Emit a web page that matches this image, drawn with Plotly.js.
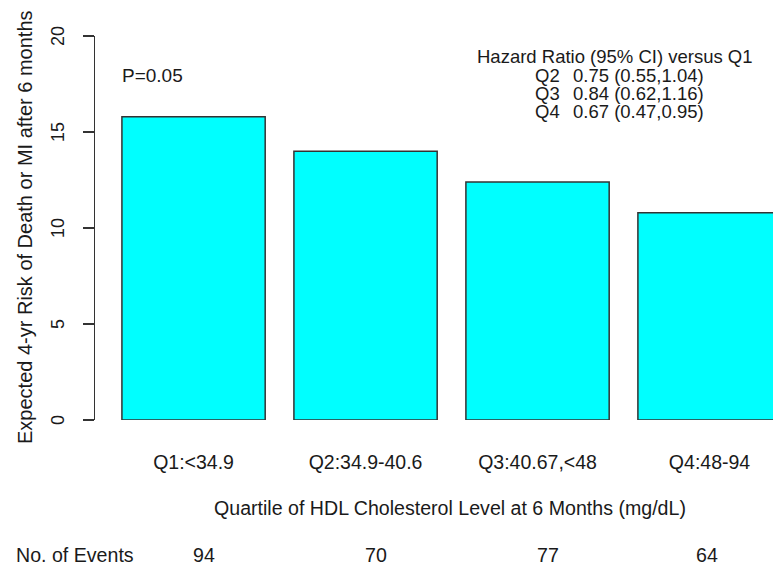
<!DOCTYPE html>
<html>
<head>
<meta charset="utf-8">
<script src="https://cdn.plot.ly/plotly-3.0.1.min.js"></script>
<style>html,body{margin:0;padding:0;background:#fff;}#chart{width:773px;height:570px;}</style>
</head>
<body>
<div id="chart"></div>
<script>
const categories = ["Q1:<34.9", "Q2:34.9-40.6", "Q3:40.67,<48", "Q4:48-94"];
const riskValues = [15.8, 14.0, 12.4, 10.8];
const eventCounts = [94, 70, 77, 64];
const hrLabels = ["Q2", "Q3", "Q4"];
const hrValues = ["0.75 (0.55,1.04)", "0.84 (0.62,1.16)", "0.67 (0.47,0.95)"];
const yTicks = [0, 5, 10, 15, 20];

const FONT = "Liberation Sans, Arial, Helvetica, sans-serif";
const TXT = "#1a1a1a";
const L = 95, T = 36, W = 678, H = 384;
const px = x => (x - L) / W;
const py = y => (T + H - y) / H;

const annotations = [];
annotations.push({xref:"paper", yref:"paper", x:px(120), y:py(75), xanchor:"left", yanchor:"middle",
  text:"P=0.05", showarrow:false, font:{family:FONT, size:19, color:TXT}});
annotations.push({xref:"paper", yref:"paper", x:px(615), y:py(56), xanchor:"center", yanchor:"middle",
  text:"Hazard Ratio (95% CI) versus Q1", showarrow:false, font:{family:FONT, size:18.5, color:TXT}});
const rowY = [75, 93.5, 112];
hrLabels.forEach((lab, i) => {
  annotations.push({xref:"paper", yref:"paper", x:px(547), y:py(rowY[i]), xanchor:"center", yanchor:"middle",
    text:lab, showarrow:false, font:{family:FONT, size:18.5, color:TXT}});
  annotations.push({xref:"paper", yref:"paper", x:px(571), y:py(rowY[i]), xanchor:"left", yanchor:"middle",
    text:hrValues[i], showarrow:false, font:{family:FONT, size:18.5, color:TXT}});
});
annotations.push({xref:"paper", yref:"paper", x:px(450), y:py(508), xanchor:"center", yanchor:"middle",
  text:"Quartile of HDL Cholesterol Level at 6 Months (mg/dL)", showarrow:false, font:{family:FONT, size:19.6, color:TXT}});
annotations.push({xref:"paper", yref:"paper", x:px(14), y:py(555), xanchor:"left", yanchor:"middle",
  text:"No. of Events", showarrow:false, font:{family:FONT, size:19.6, color:TXT}});
eventCounts.forEach((n, i) => {
  annotations.push({xref:"x", yref:"paper", x:categories[i], y:py(555), xanchor:"center", yanchor:"middle",
    xshift: i < 3 ? 10 : -3,
    text:String(n), showarrow:false, font:{family:FONT, size:19.6, color:TXT}});
});
annotations.push({xref:"paper", yref:"paper", x:px(25), y:py(227), xanchor:"center", yanchor:"middle",
  textangle:-90, text:"Expected 4-yr Risk of Death or MI after 6 months", showarrow:false,
  font:{family:FONT, size:20, color:TXT}});
yTicks.forEach(v => {
  annotations.push({xref:"paper", yref:"y", x:px(58), y:v, xanchor:"center", yanchor:"middle",
    textangle:-90, text:String(v), showarrow:false, font:{family:FONT, size:18, color:TXT}});
});

const data = [{
  type:"bar", x:categories, y:riskValues,
  marker:{color:"#00FFFF", line:{color:"#333333", width:1.5}},
  hoverinfo:"skip"
}];

const layout = {
  width:773, height:570,
  margin:{l:L, r:773-L-W, t:T, b:570-T-H, pad:0},
  paper_bgcolor:"#fff", plot_bgcolor:"#fff",
  showlegend:false,
  bargap:0.167,
  xaxis:{type:"category", range:[-0.573, 3.369], showline:false, showgrid:false, zeroline:false,
    ticks:"", ticklabelstandoff:28, tickfont:{family:FONT, size:19.5, color:TXT}, fixedrange:true},
  yaxis:{range:[0,20], tickvals:yTicks, showticklabels:false, showline:true, linecolor:"#333", linewidth:1.5,
    ticks:"outside", ticklen:11, tickwidth:1.5, tickcolor:"#333",
    showgrid:false, zeroline:false, fixedrange:true},
  annotations:annotations
};
Plotly.newPlot("chart", data, layout, {staticPlot:true, displayModeBar:false});
</script>
</body>
</html>
